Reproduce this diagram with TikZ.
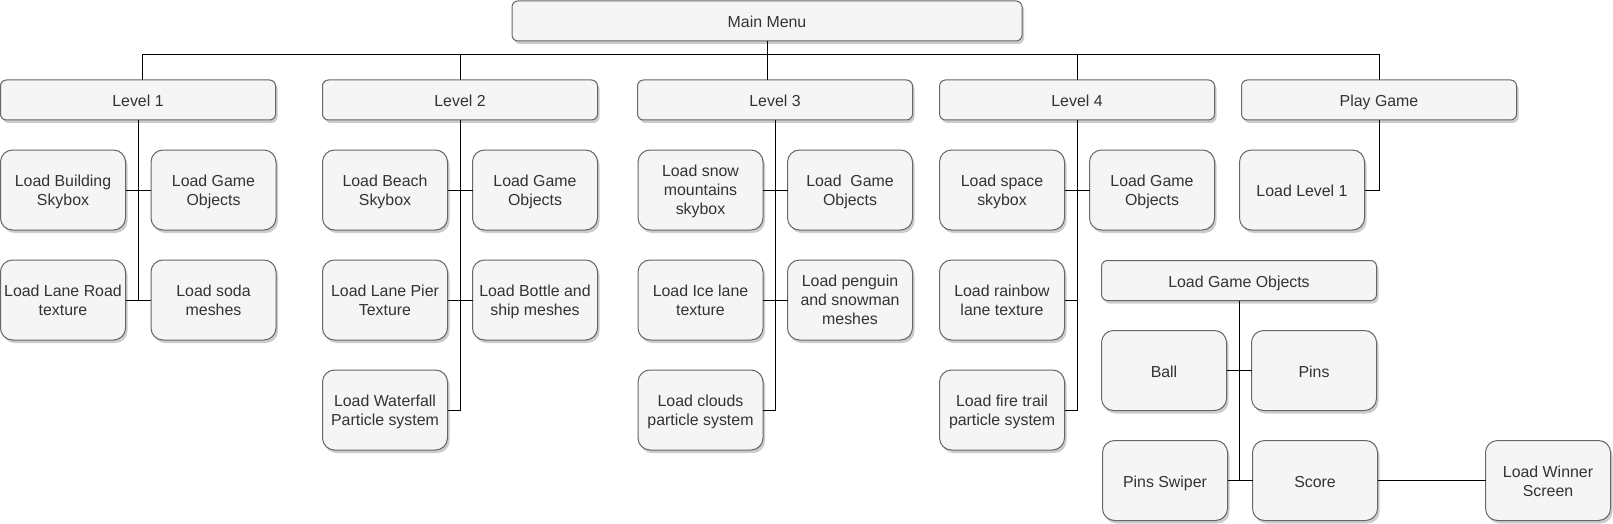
\documentclass[tikz,border=0pt]{standalone}
\usepackage{fontspec}
\setmainfont{Liberation Sans}
\usetikzlibrary{positioning,shadows}

\definecolor{boxfill}{HTML}{F5F5F5}
\definecolor{boxline}{HTML}{666666}
\definecolor{boxtext}{HTML}{333333}
\def\firstrule{16.7pt}

\begin{document}
\begin{tikzpicture}[x=1pt, y=-1pt,
  every node/.style={font=\fontsize{15.9}{19}\selectfont, text=boxtext, align=center, inner sep=0pt, outer sep=0pt,
    execute at begin node={\rule{0pt}{\firstrule}}, execute at end node={\rule[-3.4pt]{0pt}{3.4pt}}},
  wide/.style={draw=boxline, fill=boxfill, line width=1pt, rounded corners=6pt, minimum width=275pt, minimum height=40pt,
    drop shadow={shadow xshift=2pt, shadow yshift=-3pt, opacity=0.2, fill=black}},
  tile/.style={wide, rounded corners=12pt, minimum width=125pt, minimum height=80pt},
  stack/.style={tile, /utils/exec={\def\firstrule{34.6pt}}},
  tall/.style={tile, /utils/exec={\def\firstrule{52.8pt}}},
  link/.style={draw=black, line width=1pt}]
\useasboundingbox (0,0) rectangle (1613,524);

\def\xa{138};
\def\xb{460};
\def\xc{775};
\def\xd{1077};
\def\xe{1379};

\def\ya{21};
\def\yb{55};
\def\yc{100};
\def\yd{190};
\def\ye{300};
\def\yf{410};

\node[wide, minimum width=510pt](menu) at (767, \ya) {Main Menu};
\coordinate(bus) at (0, \yb);
\node[wide](lvone) at (\xa, \yc) {Level 1};
\node[wide](lvtwo) at (\xb, \yc) {Level 2};
\node[wide](lvthree) at (\xc, \yc) {Level 3};
\node[wide](lvfour) at (\xd, \yc) {Level 4};
\node[wide](play) at (\xe, \yc) {Play Game};

\node[stack](skyone) at (63, \yd) {Load Building\\Skybox};
\node[stack](objone) at (213.5, \yd) {Load Game\\Objects};
\node[stack](laneone) at (63, \ye) {Load Lane Road\\texture};
\node[stack](meshone) at (213.5, \ye) {Load soda\\meshes};

\node[stack](skytwo) at (385, \yd) {Load Beach\\Skybox};
\node[stack](objtwo) at (535, \yd) {Load Game\\Objects};
\node[stack](lanetwo) at (385, \ye) {Load Lane Pier\\Texture};
\node[stack](meshtwo) at (535, \ye) {Load Bottle and\\ship meshes};
\node[stack](parttwo) at (385, \yf) {Load Waterfall\\Particle system};

\node[tall](skythree) at (700.5, \yd) {Load snow\\mountains\\skybox};
\node[stack](objthree) at (850, \yd) {Load\ \ Game\\Objects};
\node[stack](lanethree) at (700.5, \ye) {Load Ice lane\\texture};
\node[tall](meshthree) at (850, \ye) {Load penguin\\and snowman\\meshes};
\node[stack](partthree) at (700.5, \yf) {Load clouds\\particle system};

\node[stack](skyfour) at (1002, \yd) {Load space\\skybox};
\node[stack](objfour) at (1152, \yd) {Load Game\\Objects};
\node[stack](lanefour) at (1002, \ye) {Load rainbow\\lane texture};
\node[stack](partfour) at (1002, \yf) {Load fire trail\\particle system};

\node[tile](levelone) at (1302, \yd) {Load Level 1};

\node[wide](objects) at (1239, 280.5) {Load Game Objects};
\node[tile](ball) at (1164, 370.5) {Ball};
\node[tile](pins) at (1314, 370.5) {Pins};
\node[tile](swiper) at (1165, 480.5) {Pins Swiper};
\node[tile](score) at (1315, 480.5) {Score};
\node[stack](winner) at (1548, 480.5) {Load Winner\\Screen};

\draw[link] (menu.south) -- (menu.south |- lvthree.north);
\draw[link] ([xshift=4pt]lvone.north) |- (bus -| play.north) -- (play.north);
\draw[link] (lvtwo.north) -- (lvtwo.north |- bus);
\draw[link] (lvfour.north) -- (lvfour.north |- bus);

\draw[link] (lvone.south) -- (lvone.south |- laneone.east);
\draw[link] (skyone.east) -- (objone.west);
\draw[link] (laneone.east) -- (meshone.west);

\draw[link] (lvtwo.south) |- (parttwo.east);
\draw[link] (skytwo.east) -- (objtwo.west);
\draw[link] (lanetwo.east) -- (meshtwo.west);

\draw[link] (lvthree.south) |- (partthree.east);
\draw[link] (skythree.east) -- (objthree.west);
\draw[link] (lanethree.east) -- (meshthree.west);

\draw[link] (lvfour.south) |- (partfour.east);
\draw[link] (skyfour.east) -- (objfour.west);
\draw[link] (lanefour.east) -- (lanefour.east -| lvfour.south);

\draw[link] (play.south) |- (levelone.east);

\draw[link] (objects.south) -- (objects.south |- score.west);
\draw[link] (ball.east) -- (pins.west);
\draw[link] (swiper.east) -- (score.west);
\draw[link] (score.east) -- (winner.west);
\end{tikzpicture}
\end{document}
